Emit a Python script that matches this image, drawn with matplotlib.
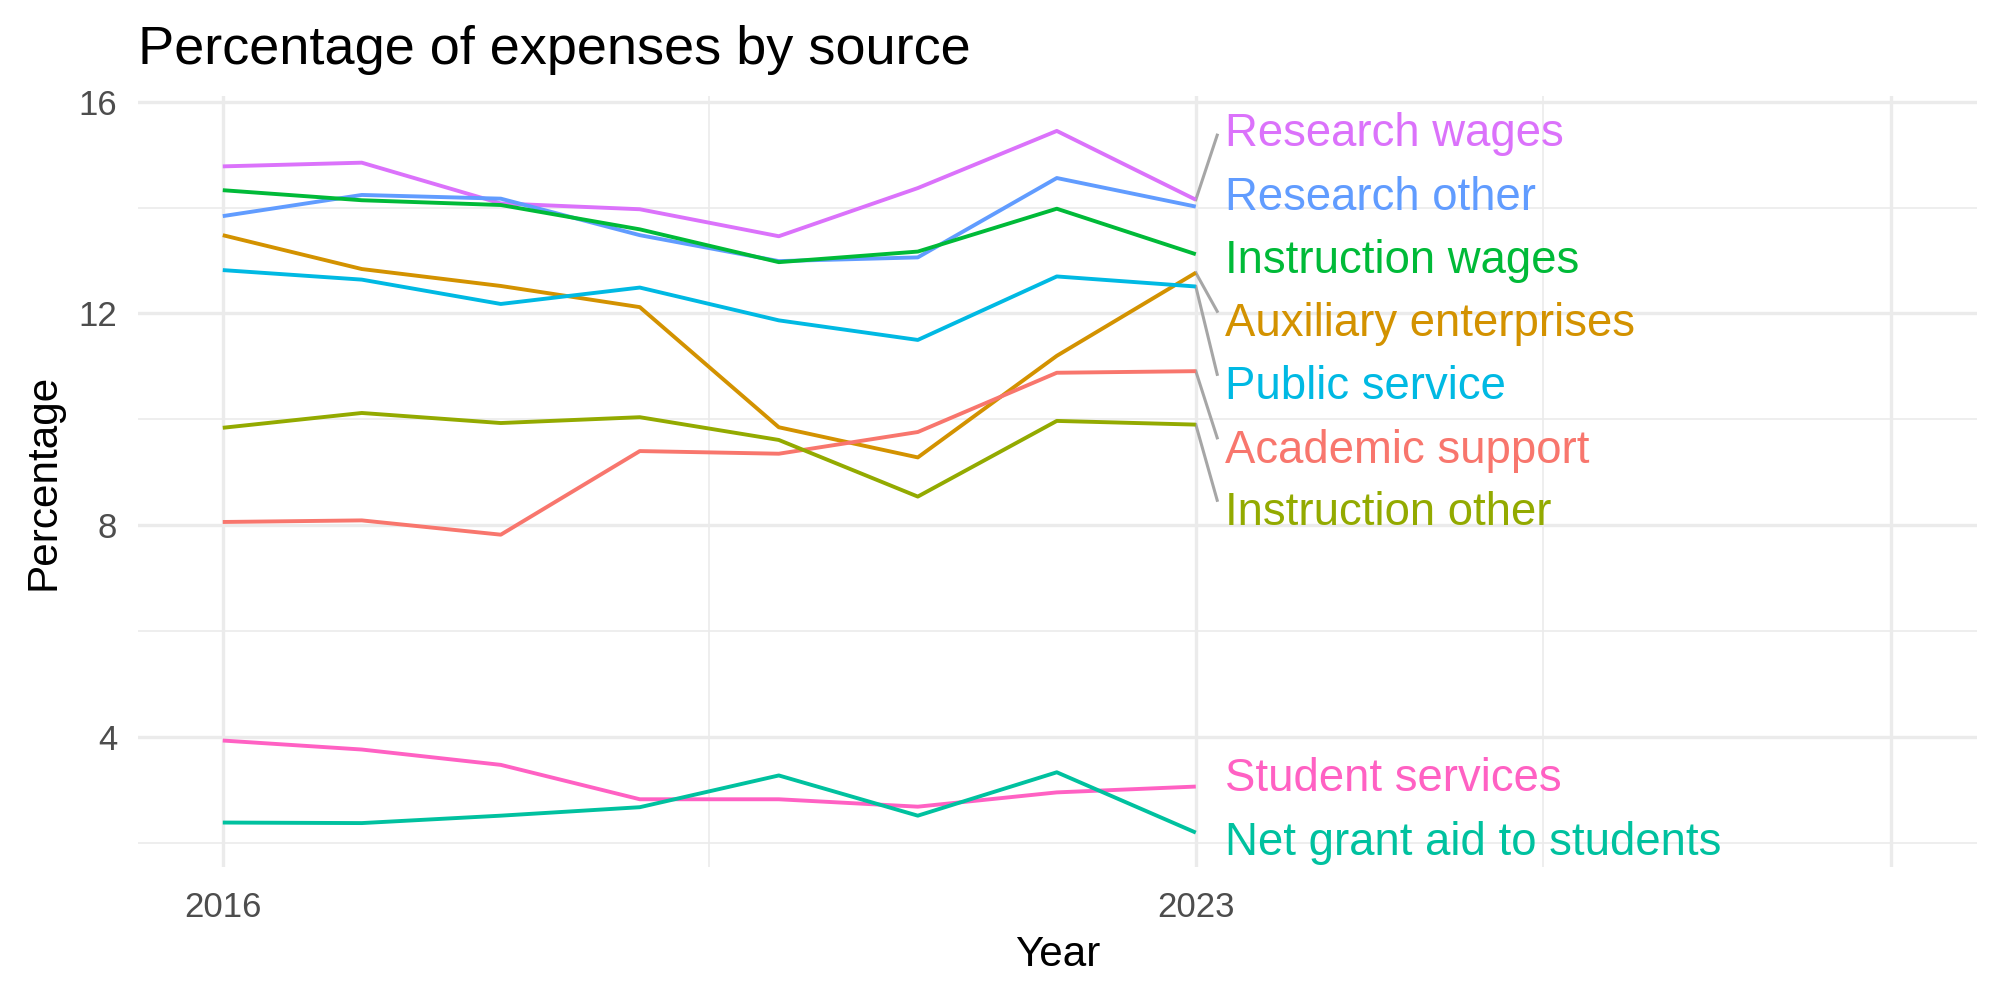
import numpy as np
import matplotlib
matplotlib.use("Agg")
import matplotlib.pyplot as plt
from matplotlib.ticker import FixedLocator

plt.rcParams["font.family"] = ["Liberation Sans", "DejaVu Sans"]

years = [2016, 2017, 2018, 2019, 2020, 2021, 2022, 2023]

series_names = [
    "Research wages", "Research other", "Instruction wages",
    "Auxiliary enterprises", "Public service", "Academic support",
    "Instruction other", "Student services", "Net grant aid to students",
]
research_wages = [14.78, 14.85, 14.08, 13.97, 13.46, 14.37, 15.45, 14.15]
research_other = [13.84, 14.24, 14.17, 13.48, 12.99, 13.06, 14.56, 14.02]
instruction_wages = [14.33, 14.14, 14.05, 13.59, 12.97, 13.17, 13.98, 13.12]
auxiliary = [13.48, 12.84, 12.52, 12.12, 9.85, 9.28, 11.20, 12.77]
public_service = [12.82, 12.64, 12.18, 12.49, 11.87, 11.50, 12.70, 12.51]
academic_support = [8.06, 8.09, 7.82, 9.40, 9.35, 9.76, 10.88, 10.91]
instruction_other = [9.84, 10.12, 9.93, 10.04, 9.61, 8.54, 9.97, 9.90]
student_services = [3.93, 3.76, 3.47, 2.82, 2.82, 2.68, 2.95, 3.06]
net_grant = [2.38, 2.37, 2.51, 2.67, 3.27, 2.51, 3.33, 2.19]

# repelled label positions at the right end
label_y = [15.39, 14.19, 12.99, 11.80, 10.61, 9.41, 8.23, 3.20, 2.00]

colors = ["#DB72FB", "#619CFF", "#00BA38", "#D39200", "#00B9E3",
          "#F8766D", "#93AA00", "#FF61C3", "#00C19F"]

values = [research_wages, research_other, instruction_wages, auxiliary,
          public_service, academic_support, instruction_other,
          student_services, net_grant]

fig = plt.figure(figsize=(10, 5), dpi=200)
ax = fig.add_axes([0.069, 0.133, 0.9195, 0.771])

grid = "#EBEBEB"
ax.set_xlim(2015.39, 2028.62)
ax.set_ylim(1.54, 16.11)
ax.xaxis.set_major_locator(FixedLocator([2016, 2023, 2028]))
ax.xaxis.set_minor_locator(FixedLocator([2019.5, 2025.5]))
ax.set_xticklabels(["2016", "2023", ""])
ax.yaxis.set_major_locator(FixedLocator([4, 8, 12, 16]))
ax.yaxis.set_minor_locator(FixedLocator([2, 6, 10, 14]))
ax.grid(which="major", color=grid, lw=1.2)
ax.grid(which="minor", color=grid, lw=0.6)
ax.set_axisbelow(True)
for s in ax.spines.values():
    s.set_visible(False)
ax.tick_params(which="both", length=0, labelsize=12.5, labelcolor="#4D4D4D")
ax.tick_params(axis="x", pad=8.5)
ax.tick_params(axis="y", pad=7.5)

last = years[-1]
for name, vals, c, ly in zip(series_names, values, colors, label_y):
    ax.plot(years, vals, color=c, lw=1.4, solid_capstyle="butt", zorder=3)
    if abs(vals[-1] - ly) > 0.5:
        # segment stops at the label's edge nearest the point
        end_y = ly + (0.24 if vals[-1] > ly else -0.02)
        ax.plot([last, last + 0.154], [vals[-1], end_y],
                color="#A6A6A6", lw=1.1, zorder=2)
    ax.text(last + 0.21, ly, name, color=c, fontsize=16.4,
            ha="left", va="center", zorder=4)

ax.set_xlabel("Year", fontsize=15.2, labelpad=4)
ax.set_ylabel("Percentage", fontsize=15.2, labelpad=5.5)
ax.set_title("Percentage of expenses by source", loc="left",
             fontsize=19.5, pad=11.5)

fig.savefig("out.png", dpi=200)
